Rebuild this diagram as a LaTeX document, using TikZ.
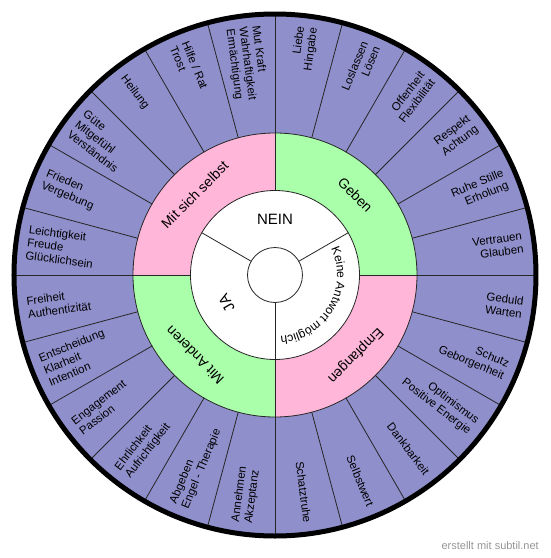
\documentclass[tikz,border=0pt]{standalone}
\usepackage{fontspec}
\setmainfont{Liberation Sans}
\usepackage{tikz}
\usetikzlibrary{decorations.text}
\usepackage{tkz-euclide}
\usepackage{xcolor}

\definecolor{wheelblue}{RGB}{143,143,204}
\definecolor{wheelpink}{RGB}{255,182,217}
\definecolor{wheelgreen}{RGB}{170,255,170}
\definecolor{signgray}{RGB}{150,150,150}

\tikzset{
    spoke/.style={draw=black!85,line width=0.8pt},
    ring/.style={draw=black!85,line width=0.8pt},
    rim/.style={draw=black,line width=5pt},
    rlabel/.style={inner sep=0pt,align=right,anchor=east,font=\fontsize{11.5}{13}\selectfont},
    llabel/.style={inner sep=0pt,align=left,anchor=west,font=\fontsize{11.5}{13}\selectfont},
    ringlabel/.style={inner sep=0pt,font=\fontsize{14}{16}\selectfont},
    innerlabel/.style={inner sep=0pt,font=\fontsize{15}{17}\selectfont},
}

\begin{document}
\begin{tikzpicture}[x=1pt,y=1pt]
    \useasboundingbox (-275,-283) rectangle (275,275);
    \tkzDefPoint(0,0){O}

    % Flaechen
    \fill[wheelblue] (O) circle (261);
    \foreach \a/\c in {0/wheelgreen,90/wheelpink,180/wheelgreen,270/wheelpink}
        \fill[\c] (O) -- (\a:142) arc[start angle=\a,delta angle=90,radius=142] -- cycle;
    \fill[white] (O) circle (84.5);

    % Speichen
    \foreach \a in {0,15,...,345}{
        \tkzDefPoint(\a:142){A}
        \tkzDefPoint(\a:259){B}
        \tkzDrawSegment[spoke](A,B)
    }
    \foreach \a in {0,90,180,270}{
        \tkzDefPoint(\a:84.5){C}
        \tkzDefPoint(\a:142){D}
        \tkzDrawSegment[spoke](C,D)
    }
    \foreach \a in {30,150,270}{
        \tkzDefPoint(\a:27.5){E}
        \tkzDefPoint(\a:84.5){F}
        \tkzDrawSegment[spoke](E,F)
    }
    \draw[ring] (O) circle (142);
    \draw[ring] (O) circle (84.5);
    \draw[ring] (O) circle (27.5);
    \draw[rim] (O) circle (261);

    % aeusserer Ring
    \foreach \a/\t [count=\i] in {82.5/{Liebe\\Hingabe},67.5/{Loslassen\\L\"osen},
        52.5/{Offenheit\\Flexibilit\"at},37.5/{Respekt\\Achtung},22.5/{Ruhe Stille\\Erholung},
        7.5/{Vertrauen\\Glauben},-7.5/{Geduld\\Warten},-22.5/{Schutz\\Geborgenheit},
        -37.5/{Optimismus\\Positive Energie},-52.5/{Dankbarkeit},-67.5/{Selbstwert},
        -82.5/{Schatztruhe}}
        \node[rlabel,rotate=\a] (r\i) at (\a:250) {\t};
    \foreach \a/\t [count=\i] in {97.5/{Mut Kraft\\Wahrhaftigkeit\\Erm\"achtigung},
        112.5/{Hilfe / Rat\\Trost},127.5/{Heilung},142.5/{G\"ute\\Mitgef\"uhl\\Verst\"andnis},
        157.5/{Frieden\\Vergebung},172.5/{Leichtigkeit\\Freude\\Gl\"ucklichsein},
        187.5/{Freiheit\\Authentizit\"at},202.5/{Entscheidung\\Klarheit\\Intention},
        217.5/{Engagement\\Passion},232.5/{Ehrlichkeit\\Aufrichtigkeit},
        247.5/{Abgeben\\Engel - Therapie},262.5/{Annehmen\\Akzeptanz}}
        \node[llabel,rotate=\a+180] (l\i) at (\a:250) {\t};

    % mittlerer Ring
    \node[ringlabel,rotate=45] (mitsich) at (135:113.5) {Mit sich selbst};
    \node[ringlabel,rotate=-45] (geben) at (45:113.5) {Geben};
    \node[ringlabel,rotate=-135] (empfangen) at (-45:113.5) {Empfangen};
    \node[ringlabel,rotate=135] (mitanderen) at (225:113.5) {Mit Anderen};

    % innerer Kreis
    \node[innerlabel] (nein) at (90:56) {NEIN};
    \node[innerlabel,rotate=120] (ja) at (210:56) {JA};
    \path[decorate,decoration={text along path,text align=center,
        text={|\fontsize{12}{14}\selectfont|Keine Antwort möglich}}]
        (35:62) arc[start angle=35,end angle=-95,radius=62];

    \node[anchor=east,inner sep=0pt,text=signgray,font=\fontsize{11}{13}\selectfont] (sign)
        at (264,-271) {erstellt mit subtil.net};
\end{tikzpicture}
\end{document}
